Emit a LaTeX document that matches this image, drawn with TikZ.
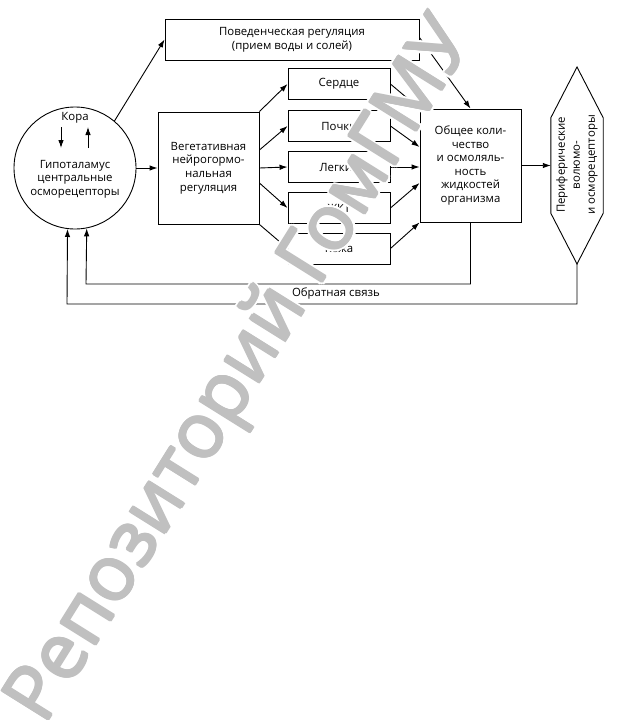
\documentclass[tikz,border=0pt]{standalone}
\usepackage{fontspec}
\setmainfont{Open Sans}
\usetikzlibrary{arrows.meta,calc}
\definecolor{wmgray}{RGB}{192,192,192}
\begin{document}
\begin{tikzpicture}[x=1pt,y=-1pt,
  box/.style={draw, line width=0.9pt, inner sep=0pt, align=center, font=\fontsize{11.4}{13.6}\selectfont},
  sbox/.style={box, minimum width=102pt, minimum height=31pt},
  arr/.style={draw, line width=0.9pt, -{Latex[length=8pt,width=5.5pt]}},
  lbl/.style={font=\fontsize{11.4}{13.6}\selectfont, inner sep=0pt, align=center},
  wm/.style={rotate=58, inner sep=0pt, font=\fontsize{77}{77}\selectfont}]
\useasboundingbox (0,0) rectangle (630,720);
\fill[white] (0,0) rectangle (630,720);
% nodes
\node[box, minimum width=254pt, minimum height=41pt] (top) at (292,39.5) {Поведенческая регуляция\\(прием воды и солей)};
\node[box, circle, minimum size=122pt] (circ) at (75,168) {};
\node[lbl] (hyp) at (75,179) {Гипоталамус\\центральные\\осморецепторы};
\node[lbl] (kora) at (75,118) {Кора};
\coordinate (kd1) at (61,127);
\coordinate (kd2) at (61,148);
\coordinate (ku1) at (88,148);
\coordinate (ku2) at (88,127);
\draw[arr] (kd1) -- (kd2);
\draw[arr] (ku1) -- (ku2);
\node[box, minimum width=101pt, minimum height=112pt] (veg) at (208.5,168) {Вегетативная\\нейрогормо-\\нальная\\регуляция};
\node[sbox] (s1) at (339,84) {Сердце};
\node[sbox] (s2) at (339,126) {Почки};
\node[sbox] (s3) at (339,167) {Легкие};
\node[sbox] (s4) at (339,208) {ЖКТ};
\node[sbox] (s5) at (339,248.5) {Кожа};
\node[box, minimum width=101pt, minimum height=113pt] (big) at (470.5,165.5) {Общее коли-\\чество\\и осмоляль-\\ность\\жидкостей\\организма};
\node[inner sep=0pt, minimum width=52pt, minimum height=95pt] (hexbox) at (577,165.5) {};
\coordinate (hexT) at (577,67);
\coordinate (hexB) at (577,264);
\draw[line width=0.9pt] (hexT) -- (hexbox.north east) -- (hexbox.south east) -- (hexB) -- (hexbox.south west) -- (hexbox.north west) -- cycle;
\node[lbl, rotate=90, font=\fontsize{11.4}{15}\selectfont] (hext) at (577,165) {Периферические\\волюмо-\\и осморецепторы};
% connectors
\draw[arr] (circ.50) -- (top.west);
\draw[arr] (circ.east) -- (veg.west);
\draw[arr] (veg.north east) -- (s1.west);
\draw[arr] ([yshift=18pt]veg.east) -- (s2.west);
\draw[arr] (veg.east) -- (s3.west);
\draw[arr] ([yshift=-15pt]veg.east) -- (s4.west);
\draw[arr] (veg.south east) -- (s5.west);
\draw[arr] (s1.east) -- (big.north west);
\draw[arr] (s2.east) -- ([yshift=18.5pt]big.west);
\draw[arr] (s3.east) -- (s3.east -| big.west);
\draw[arr] (s4.east) -- ([yshift=-17.5pt]big.west);
\draw[arr] (s5.east) -- (big.south west);
\draw[arr] ([yshift=2pt]top.east) -- (big.north);
\draw[arr] (big.east) -- (big.east -| hexbox.west);
% feedback
\coordinate (fb1) at (86,284);
\coordinate (fb2) at (67,304);
\draw[arr] (big.south) -- (big.south |- fb1) -- (fb1) -- (circ.-79.6);
\draw[arr] (hexB) -- (hexB |- fb2) -- (fb2) -- (circ.-97.5);
\node[lbl] (fbl) at (336,293) {Обратная связь};
% watermark
\coordinate (wmc) at (243,372);
\foreach \a in {0,30,...,330} {
  \node[wm, text=white] (wmh\a) at ($(wmc)+(\a:3.2)$) {Репозиторий ГомГМУ};
}
\foreach \a in {0,45,...,315} {
  \node[wm, text=wmgray] (wmg\a) at ($(wmc)+(\a:1.1)$) {Репозиторий ГомГМУ};
}
\node[wm, text=wmgray] (wmark) at (wmc) {Репозиторий ГомГМУ};
\end{tikzpicture}
\end{document}
